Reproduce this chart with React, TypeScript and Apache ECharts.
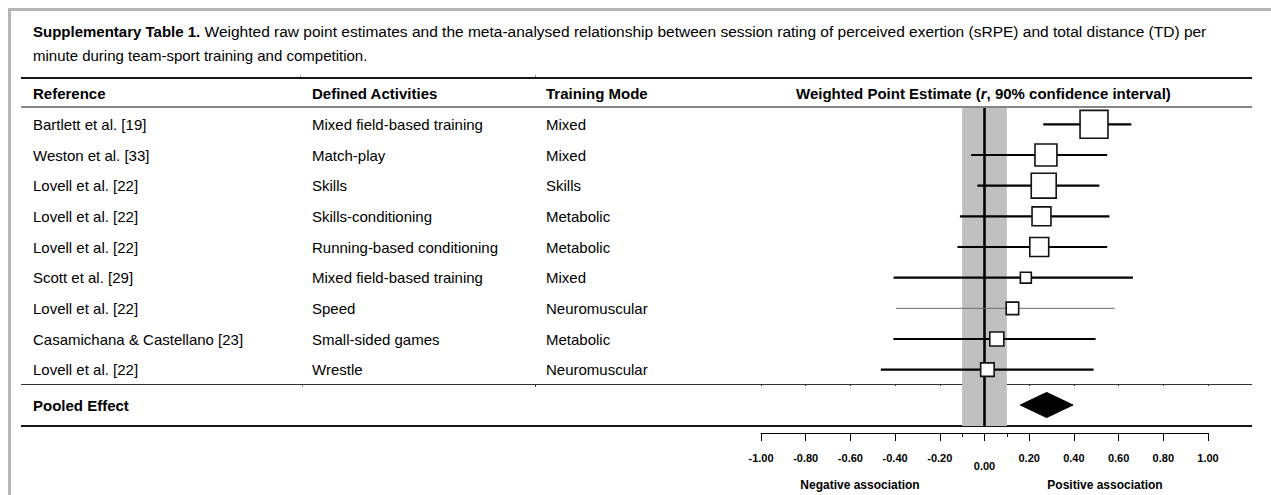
import React, { useEffect, useRef } from "react";
import * as echarts from "echarts";

// ---------- data ----------
const references = [
  "Bartlett et al. [19]",
  "Weston et al. [33]",
  "Lovell et al. [22]",
  "Lovell et al. [22]",
  "Lovell et al. [22]",
  "Scott et al. [29]",
  "Lovell et al. [22]",
  "Casamichana & Castellano [23]",
  "Lovell et al. [22]",
];
const activities = [
  "Mixed field-based training",
  "Match-play",
  "Skills",
  "Skills-conditioning",
  "Running-based conditioning",
  "Mixed field-based training",
  "Speed",
  "Small-sided games",
  "Wrestle",
];
const trainingModes = [
  "Mixed",
  "Mixed",
  "Skills",
  "Metabolic",
  "Metabolic",
  "Mixed",
  "Neuromuscular",
  "Metabolic",
  "Neuromuscular",
];
const estimates = [0.49, 0.275, 0.265, 0.255, 0.245, 0.185, 0.125, 0.055, 0.013];
const lowerCI = [0.263, -0.06, -0.032, -0.11, -0.121, -0.407, -0.396, -0.408, -0.464];
const upperCI = [0.657, 0.549, 0.514, 0.559, 0.549, 0.664, 0.582, 0.497, 0.488];
const weights = [24.0, 14.8, 19.1, 11.0, 11.0, 3.7, 4.8, 6.0, 5.6];

const pooledLabel = ["Pooled Effect"];
const pooledEstimate = [0.278];
const pooledLower = [0.16];
const pooledUpper = [0.396];

const trivialBand = [-0.1, 0.1];
const minorTickValues = [-0.1, 0.1];
const xTickLabels = ["-1.00", "-0.80", "-0.60", "-0.40", "-0.20", "0.00", "0.20", "0.40", "0.60", "0.80", "1.00"];

const titleBold = "Supplementary Table 1.";
const titleRest =
  " Weighted raw point estimates and the meta-analysed relationship between session rating of perceived exertion (sRPE) and total distance (TD) per";
const titleLine2 = "minute during team-sport training and competition.";
const headers = ["Reference", "Defined Activities", "Training Mode"];
const estimateHeader = ["Weighted Point Estimate (", "r", ", 90% confidence interval)"];
const assocLabels = ["Negative association", "Positive association"];

const FONT = "'Liberation Sans', Arial, Helvetica, sans-serif";

export default function App() {
  const ref = useRef<HTMLDivElement>(null);

  useEffect(() => {
    const chart = echarts.init(ref.current!, null, { renderer: "svg" });
    const X0 = 761;
    const XW = 447;
    const rowIds = references.map((_, i) => String(i));
    const studyData = estimates.map((e, i) => [i, lowerCI[i], upperCI[i], e, weights[i]]);
    const pooledData = pooledEstimate.map((e, i) => [i, pooledLower[i], pooledUpper[i], e]);
    const xBase = { type: "value", min: -1, max: 1, interval: 0.2 };

    const labelAxis = (texts: string[], margin: number) => ({
      type: "category",
      gridIndex: 1,
      position: "left",
      data: rowIds,
      inverse: true,
      axisLine: { show: false },
      axisTick: { show: false },
      splitLine: { show: false },
      axisLabel: {
        interval: 0,
        align: "left",
        margin,
        formatter: (_v: string, i: number) => texts[i],
        color: "#000",
        fontSize: 15,
        fontFamily: FONT,
      },
    });

    const txt = (text: string, x: number, y: number, extra: any = {}) => ({
      type: "text",
      x,
      y,
      silent: true,
      style: {
        text,
        fontSize: 15,
        fontFamily: FONT,
        fill: "#000",
        verticalAlign: "middle",
        ...extra,
      },
    });
    const hline = (x1: number, x2: number, y: number, stroke: string, lineWidth: number) => ({
      type: "line",
      silent: true,
      shape: { x1, y1: y, x2, y2: y },
      style: { stroke, lineWidth },
    });
    const vline = (x: number, y1: number, y2: number, stroke: string, lineWidth: number) => ({
      type: "line",
      silent: true,
      shape: { x1: x, y1, x2: x, y2 },
      style: { stroke, lineWidth },
    });

    const option: any = {
      animation: false,
      backgroundColor: "#fff",
      grid: [
        { left: X0, width: XW, top: 108, height: 318 },
        { left: X0, width: XW, top: 109, height: 276 },
        { left: X0, width: XW, top: 384, height: 42 },
        { left: X0, width: XW, top: 425, height: 8 },
        { left: X0, width: XW, top: 425, height: 8 },
      ],
      xAxis: [
        { ...xBase, gridIndex: 0, show: false },
        { ...xBase, gridIndex: 1, show: false },
        {
          ...xBase,
          gridIndex: 2,
          position: "top",
          axisLine: { show: false },
          axisTick: { show: true, inside: true, length: 2, lineStyle: { color: "#333", width: 1 } },
          axisLabel: { show: false },
          splitLine: { show: false },
        },
        {
          ...xBase,
          gridIndex: 3,
          position: "bottom",
          axisLine: { show: true, lineStyle: { color: "#000", width: 1 } },
          axisTick: { show: true, length: 8, lineStyle: { color: "#000", width: 1 } },
          splitLine: { show: false },
          axisLabel: {
            show: true,
            margin: 19,
            formatter: (v: number, i: number) =>
              Math.abs(v) < 1e-9 ? "{z|" + xTickLabels[i] + "}" : "{n|" + xTickLabels[i] + "}",
            rich: {
              n: { fontSize: 11, fontWeight: "bold", fontFamily: FONT, color: "#000" },
              z: { fontSize: 11, fontWeight: "bold", fontFamily: FONT, color: "#000", padding: [8, 0, 0, 0] },
            },
          },
        },
        {
          ...xBase,
          gridIndex: 4,
          position: "bottom",
          axisLine: { show: false },
          axisTick: { show: true, length: 4, customValues: minorTickValues, lineStyle: { color: "#000", width: 1 } },
          axisLabel: { show: false },
          splitLine: { show: false },
        },
      ],
      yAxis: [
        { type: "value", gridIndex: 0, min: 0, max: 1, show: false },
        labelAxis(references, X0 - 33),
        labelAxis(activities, X0 - 312),
        labelAxis(trainingModes, X0 - 546),
        {
          type: "category",
          gridIndex: 2,
          position: "left",
          data: pooledLabel,
          axisLine: { show: false },
          axisTick: { show: false },
          splitLine: { show: false },
          axisLabel: {
            interval: 0,
            align: "left",
            margin: X0 - 33,
            color: "#000",
            fontSize: 15,
            fontWeight: "bold",
            fontFamily: FONT,
          },
        },
        { type: "value", gridIndex: 3, min: 0, max: 1, show: false },
        { type: "value", gridIndex: 4, min: 0, max: 1, show: false },
      ],
      series: [
        {
          type: "custom",
          xAxisIndex: 0,
          yAxisIndex: 0,
          z: 1,
          silent: true,
          data: [trivialBand],
          encode: { x: [0, 1] },
          renderItem: (params: any, api: any) => {
            const cs = params.coordSys;
            const a = api.coord([api.value(0), 0]);
            const b = api.coord([api.value(1), 0]);
            return {
              type: "rect",
              shape: { x: a[0], y: cs.y, width: b[0] - a[0], height: cs.height },
              style: { fill: "#c0c0c0" },
            };
          },
        },
        {
          type: "custom",
          xAxisIndex: 0,
          yAxisIndex: 0,
          z: 2,
          silent: true,
          data: [[0]],
          encode: { x: 0 },
          renderItem: (params: any, api: any) => {
            const cs = params.coordSys;
            const a = api.coord([api.value(0), 0]);
            return {
              type: "line",
              shape: { x1: a[0], y1: cs.y, x2: a[0], y2: cs.y + cs.height },
              style: { stroke: "#000", lineWidth: 2.6 },
            };
          },
        },
        {
          type: "custom",
          xAxisIndex: 1,
          yAxisIndex: 1,
          z: 3,
          silent: true,
          data: studyData,
          encode: { x: [1, 2, 3], y: 0 },
          renderItem: (params: any, api: any) => {
            const idx = api.value(0);
            const lo = api.coord([api.value(1), idx]);
            const hi = api.coord([api.value(2), idx]);
            const c = api.coord([api.value(3), idx]);
            const s = Math.sqrt(api.value(4)) * 5.7;
            const thin = params.dataIndex === 6;
            return {
              type: "group",
              children: [
                {
                  type: "line",
                  shape: { x1: lo[0], y1: lo[1], x2: hi[0], y2: hi[1] },
                  style: { stroke: thin ? "#6a6a6a" : "#000", lineWidth: thin ? 1 : 2.2 },
                },
                {
                  type: "rect",
                  shape: { x: c[0] - s / 2, y: c[1] - s / 2, width: s, height: s },
                  style: { fill: "#fff", stroke: "#111", lineWidth: 1.6 },
                },
              ],
            };
          },
        },
        {
          type: "custom",
          xAxisIndex: 2,
          yAxisIndex: 4,
          z: 3,
          silent: true,
          data: pooledData,
          encode: { x: [1, 2, 3], y: 0 },
          renderItem: (params: any, api: any) => {
            const idx = api.value(0);
            const lo = api.coord([api.value(1), idx]);
            const hi = api.coord([api.value(2), idx]);
            const c = api.coord([api.value(3), idx]);
            const h = api.size([0, 1])[1] * 0.3;
            return {
              type: "polygon",
              shape: {
                points: [
                  [lo[0], c[1]],
                  [c[0], c[1] - h],
                  [hi[0], c[1]],
                  [c[0], c[1] + h],
                ],
              },
              style: { fill: "#000", stroke: "#000", lineWidth: 1 },
            };
          },
        },
      ],
      graphic: [
        // frame
        vline(9.5, 8, 495, "#b5b5b5", 3),
        hline(8, 1271, 9.5, "#b5b5b5", 3),
        // title
        {
          type: "text",
          x: 33,
          y: 31,
          silent: true,
          style: {
            text: "{b|" + titleBold + "}{n|" + titleRest + "}",
            verticalAlign: "middle",
            rich: {
              b: { fontSize: 15, fontWeight: "bold", fontFamily: FONT, fill: "#000" },
              n: { fontSize: 15.5, fontFamily: FONT, fill: "#000" },
            },
          },
        },
        txt(titleLine2, 33, 55),
        // table rules
        hline(21, 1252, 78, "#151515", 2),
        hline(21, 1252, 107, "#858585", 2),
        hline(21, 1252, 384.5, "#333", 1),
        hline(21, 1252, 426, "#151515", 2),
        vline(300.5, 75, 77, "#999", 1),
        vline(535.5, 75, 77, "#999", 1),
        vline(302.5, 385, 387, "#999", 1),
        vline(535.5, 385, 387, "#333", 1),
        // header
        txt(headers[0], 33, 93, { fontWeight: "bold" }),
        txt(headers[1], 312, 93, { fontWeight: "bold" }),
        txt(headers[2], 546, 93, { fontWeight: "bold" }),
        {
          type: "text",
          x: 796,
          y: 93,
          silent: true,
          style: {
            text: "{b|" + estimateHeader[0] + "}{i|" + estimateHeader[1] + "}{b|" + estimateHeader[2] + "}",
            verticalAlign: "middle",
            rich: {
              b: { fontSize: 15, fontWeight: "bold", fontFamily: FONT, fill: "#000" },
              i: { fontSize: 15, fontWeight: "bold", fontStyle: "italic", fontFamily: FONT, fill: "#000" },
            },
          },
        },
        // association labels
        txt(assocLabels[0], 860, 485, { fontSize: 12, fontWeight: "bold", align: "center" }),
        txt(assocLabels[1], 1105, 485, { fontSize: 12, fontWeight: "bold", align: "center" }),
      ],
    };

    chart.setOption(option);
    return () => {
      chart.dispose();
    };
  }, []);

  return (
    <div
      ref={ref}
      style={{ position: "fixed", left: 0, top: 0, width: 1271, height: 495, background: "#fff" }}
    />
  );
}
